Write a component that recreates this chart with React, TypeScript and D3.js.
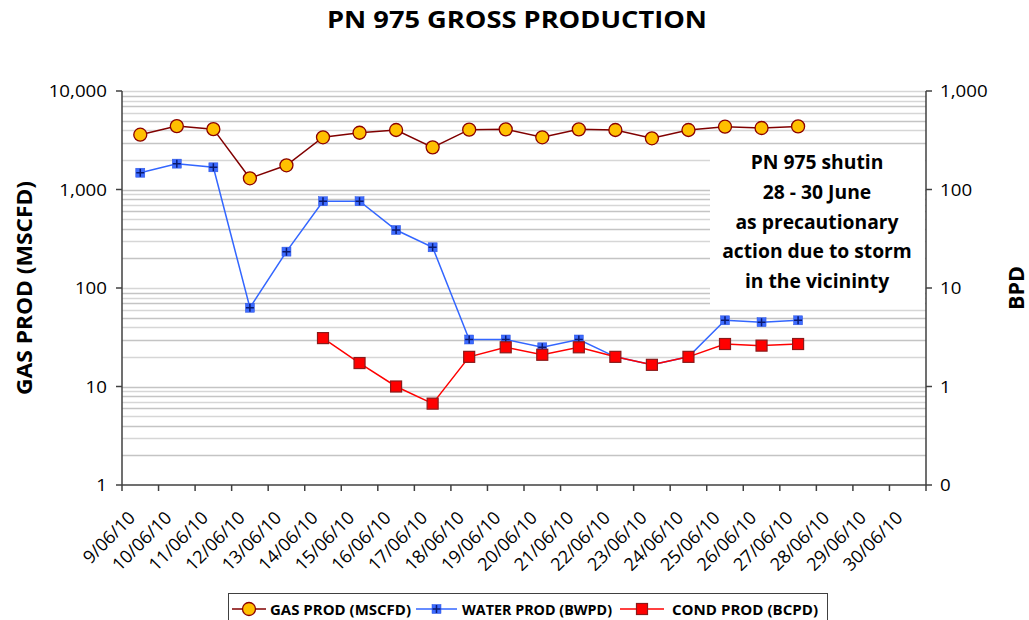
import React, { useEffect, useRef } from 'react';
import * as d3 from 'd3';

// Data
const dates = [
  '9/06/10', '10/06/10', '11/06/10', '12/06/10', '13/06/10', '14/06/10', '15/06/10', '16/06/10',
  '17/06/10', '18/06/10', '19/06/10', '20/06/10', '21/06/10', '22/06/10', '23/06/10', '24/06/10',
  '25/06/10', '26/06/10', '27/06/10', '28/06/10', '29/06/10', '30/06/10',
];

// MSCFD, left axis
const gasProd: (number | null)[] = [
  3600, 4400, 4100, 1300, 1760, 3390, 3770, 4020, 2680, 4050, 4080, 3390, 4080, 4020, 3310, 4020,
  4340, 4210, 4370, null, null, null,
];

// BWPD, right axis
const waterProd: (number | null)[] = [
  148, 183, 168, 6.3, 23.4, 76, 76, 38.8, 25.9, 3.0, 3.0, 2.5, 3.0, 2.0, 1.66, 2.0,
  4.7, 4.5, 4.7, null, null, null,
];

// BCPD, right axis
const condProd: (number | null)[] = [
  null, null, null, null, null, 3.1, 1.73, 1.0, 0.67, 2.0, 2.5, 2.1, 2.5, 2.0, 1.66, 2.0,
  2.7, 2.6, 2.7, null, null, null,
];

const leftTicks = [1, 10, 100, 1000, 10000];
const rightTicks = [0.1, 1, 10, 100, 1000];

const noteLines = ['PN 975 shutin', '28 - 30 June', 'as precautionary', 'action due to storm', 'in the vicininty'];

const FONT = '"Open Sans", sans-serif';

const App = () => {
  const svgRef = useRef<SVGSVGElement>(null);

  useEffect(() => {
    const svg = d3.select(svgRef.current);
    svg.selectAll('*').remove();

    const left = 122, right = 926, top = 91, bottom = 485;

    const x = d3.scaleBand<string>().domain(dates).range([left, right]);
    const cx = (d: string) => (x(d) as number) + x.bandwidth() / 2;
    const yL = d3.scaleLog().domain([1, 10000]).range([bottom, top]);
    const yR = d3.scaleLog().domain([0.1, 1000]).range([bottom, top]);

    // Title
    svg.append('text')
      .attr('x', 517).attr('y', 28)
      .attr('text-anchor', 'middle')
      .attr('textLength', 380).attr('lengthAdjust', 'spacingAndGlyphs')
      .style('font-family', FONT).style('font-weight', 'bold').style('font-size', '22.5px')
      .text('PN 975 GROSS PRODUCTION');

    // Gridlines (minor log lines)
    const grid: number[] = [];
    for (let e = 0; e < 4; e++) {
      for (let m = 1; m <= 9; m++) grid.push(m * Math.pow(10, e));
    }
    grid.push(10000);
    svg.append('g').selectAll('line')
      .data(grid.filter(v => v > 1))
      .enter().append('line')
      .attr('x1', left).attr('x2', right)
      .attr('y1', d => Math.round(yL(d)) + 0.5).attr('y2', d => Math.round(yL(d)) + 0.5)
      .attr('stroke', (d, i) => (i % 2 === 0 ? '#c4c4c4' : '#d6d6d6'))
      .attr('stroke-width', 1.5);

    // Annotation box covering gridlines
    svg.append('rect')
      .attr('x', 710).attr('y', 150).attr('width', right - 710 - 1).attr('height', 156)
      .attr('fill', '#fff');
    svg.append('g').selectAll('text')
      .data(noteLines)
      .enter().append('text')
      .attr('x', 817).attr('y', (d, i) => 169 + i * 29.8)
      .attr('text-anchor', 'middle')
      .style('font-family', FONT).style('font-weight', 'bold').style('font-size', '19.3px')
      .text(d => d);

    // Axes lines
    const axisColor = '#404040';
    svg.append('line').attr('x1', left).attr('x2', left).attr('y1', top).attr('y2', bottom)
      .attr('stroke', axisColor).attr('stroke-width', 1.5);
    svg.append('line').attr('x1', right).attr('x2', right).attr('y1', top).attr('y2', bottom)
      .attr('stroke', axisColor).attr('stroke-width', 1.5);
    svg.append('line').attr('x1', left).attr('x2', right).attr('y1', bottom).attr('y2', bottom)
      .attr('stroke', axisColor).attr('stroke-width', 1.5);

    // Left ticks
    const lt = svg.append('g');
    lt.selectAll('line').data(leftTicks).enter().append('line')
      .attr('x1', left - 6).attr('x2', left)
      .attr('y1', d => yL(d)).attr('y2', d => yL(d))
      .attr('stroke', axisColor).attr('stroke-width', 1.5);
    lt.selectAll('text').data(leftTicks).enter().append('text')
      .attr('transform', d => `translate(${left - 15},${yL(d) + 6}) scale(1.17,1)`)
      .attr('text-anchor', 'end')
      .style('font-family', FONT).style('font-size', '16px')
      .text(d => d3.format(',')(d));

    // Right ticks
    const rt = svg.append('g');
    rt.selectAll('line').data(rightTicks).enter().append('line')
      .attr('x1', right).attr('x2', right + 6)
      .attr('y1', d => yR(d)).attr('y2', d => yR(d))
      .attr('stroke', axisColor).attr('stroke-width', 1.5);
    rt.selectAll('text').data(rightTicks).enter().append('text')
      .attr('transform', d => `translate(${right + 14},${yR(d) + 6}) scale(1.17,1)`)
      .attr('text-anchor', 'start')
      .style('font-family', FONT).style('font-size', '16px')
      .text(d => (d < 1 ? '0' : d3.format(',')(d)));

    // X ticks at category boundaries
    const bounds = dates.map(d => x(d) as number).concat([right]);
    svg.append('g').selectAll('line').data(bounds).enter().append('line')
      .attr('x1', d => d).attr('x2', d => d)
      .attr('y1', bottom).attr('y2', bottom + 6)
      .attr('stroke', axisColor).attr('stroke-width', 1.5);

    svg.append('g').selectAll('text').data(dates).enter().append('text')
      .attr('transform', d => `translate(${cx(d) - 4},${bottom + 34}) rotate(-45)`)
      .attr('text-anchor', 'end')
      .style('font-family', FONT).style('font-size', '18px')
      .text(d => d);

    // Axis titles
    svg.append('text')
      .attr('transform', `translate(32,${(top + bottom) / 2}) rotate(-90)`)
      .attr('text-anchor', 'middle')
      .attr('textLength', 214).attr('lengthAdjust', 'spacingAndGlyphs')
      .style('font-family', FONT).style('font-weight', 'bold').style('font-size', '21px')
      .text('GAS PROD (MSCFD)');
    svg.append('text')
      .attr('transform', `translate(1024,${(top + bottom) / 2}) rotate(-90)`)
      .attr('text-anchor', 'middle')
      .attr('textLength', 44).attr('lengthAdjust', 'spacingAndGlyphs')
      .style('font-family', FONT).style('font-weight', 'bold').style('font-size', '21px')
      .text('BPD');

    // Series
    const gasPts = dates.map((d, i) => ({ d, v: gasProd[i] }));
    const waterPts = dates.map((d, i) => ({ d, v: waterProd[i] }));
    const condPts = dates.map((d, i) => ({ d, v: condProd[i] }));

    const lineL = d3.line<{ d: string; v: number | null }>()
      .defined(p => p.v != null).x(p => cx(p.d)).y(p => yL(p.v as number));
    const lineR = d3.line<{ d: string; v: number | null }>()
      .defined(p => p.v != null).x(p => cx(p.d)).y(p => yR(p.v as number));

    const gasColor = '#800000', waterColor = '#3366ff', condColor = '#ff0000';

    svg.append('path').attr('d', lineR(waterPts) as string)
      .attr('fill', 'none').attr('stroke', waterColor).attr('stroke-width', 1.5);
    svg.append('path').attr('d', lineR(condPts) as string)
      .attr('fill', 'none').attr('stroke', condColor).attr('stroke-width', 1.5);
    svg.append('path').attr('d', lineL(gasPts) as string)
      .attr('fill', 'none').attr('stroke', gasColor).attr('stroke-width', 1.5);

    const drawWaterMarker = (g: d3.Selection<SVGGElement, unknown, null, undefined>, px: number, py: number) => {
      g.append('rect').attr('x', px - 4.5).attr('y', py - 4.5).attr('width', 9).attr('height', 9)
        .attr('fill', '#3d6bff').attr('stroke', '#2a52e0').attr('stroke-width', 0.5);
      g.append('path').attr('d', `M${px - 4},${py}H${px + 4}M${px},${py - 4}V${py + 4}`)
        .attr('stroke', '#0a1a70').attr('stroke-width', 1.5);
    };
    const drawCondMarker = (g: d3.Selection<SVGGElement, unknown, null, undefined>, px: number, py: number) => {
      g.append('rect').attr('x', px - 5.5).attr('y', py - 5.5).attr('width', 11).attr('height', 11)
        .attr('fill', '#ff0000').attr('stroke', '#8b1a1a').attr('stroke-width', 1.2);
    };
    const drawGasMarker = (g: d3.Selection<SVGGElement, unknown, null, undefined>, px: number, py: number) => {
      g.append('circle').attr('cx', px).attr('cy', py).attr('r', 6.5)
        .attr('fill', '#ffc000').attr('stroke', '#8b0000').attr('stroke-width', 1.3);
    };

    const wm = svg.append('g');
    waterPts.filter(p => p.v != null).forEach(p => drawWaterMarker(wm, cx(p.d), yR(p.v as number)));
    const cm = svg.append('g');
    condPts.filter(p => p.v != null).forEach(p => drawCondMarker(cm, cx(p.d), yR(p.v as number)));
    const gm = svg.append('g');
    gasPts.filter(p => p.v != null).forEach(p => drawGasMarker(gm, cx(p.d), yL(p.v as number)));

    // Legend
    const lg = svg.append('g');
    lg.append('rect').attr('x', 228.5).attr('y', 593.5).attr('width', 599).attr('height', 30)
      .attr('fill', '#fff').attr('stroke', '#404040').attr('stroke-width', 1);
    const items = [
      { label: 'GAS PROD (MSCFD)', color: gasColor, x0: 232, x1: 266, tx: 270, tw: 141, draw: drawGasMarker },
      { label: 'WATER PROD (BWPD)', color: waterColor, x0: 416, x1: 457, tx: 462, tw: 150, draw: drawWaterMarker },
      { label: 'COND PROD (BCPD)', color: condColor, x0: 620, x1: 664, tx: 672, tw: 146, draw: drawCondMarker },
    ];
    const ly = 609;
    items.forEach(it => {
      lg.append('line').attr('x1', it.x0).attr('x2', it.x1).attr('y1', ly).attr('y2', ly)
        .attr('stroke', it.color).attr('stroke-width', 1.5);
      it.draw(lg, (it.x0 + it.x1) / 2, ly);
      lg.append('text').attr('x', it.tx).attr('y', ly + 5.5)
        .attr('textLength', it.tw).attr('lengthAdjust', 'spacingAndGlyphs')
        .style('font-family', FONT).style('font-weight', 'bold').style('font-size', '15px')
        .text(it.label);
    });
  }, []);

  return (
    <svg ref={svgRef} width={1029} height={620}
      style={{ position: 'absolute', left: 0, top: 0, background: '#fff' }} />
  );
};

export default App;
